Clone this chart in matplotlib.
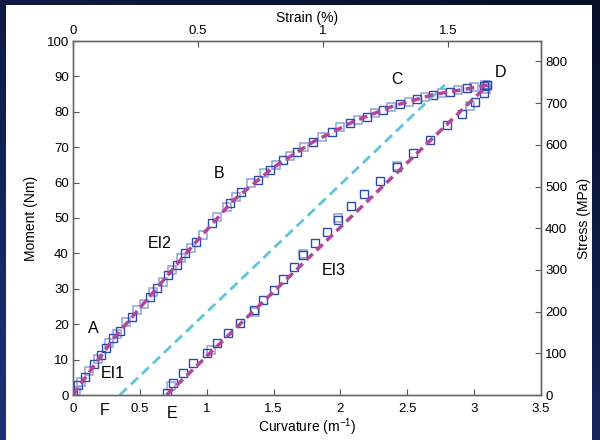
import numpy as np
import matplotlib
matplotlib.use("Agg")
import matplotlib.pyplot as plt
from matplotlib.patches import Rectangle

plt.rcParams['font.family'] = ['Liberation Sans', 'DejaVu Sans']
plt.rcParams['mathtext.default'] = 'regular'

# loading branch O-A-B-C-D (two overlapping sample sets)
load1_c = [0, 0.04, 0.09, 0.16, 0.21, 0.25, 0.30, 0.35, 0.44, 0.576, 0.626, 0.71, 0.775,
           0.838, 0.92, 1.037, 1.174, 1.26, 1.386, 1.473, 1.573, 1.673, 1.797, 1.935,
           2.07, 2.197, 2.32, 2.446, 2.57, 2.695, 2.82, 2.945, 3.07, 3.094]
load1_m = [0, 2.8, 5.2, 8.8, 11.3, 13.2, 16.0, 18.2, 22.1, 27.8, 30.1, 33.9, 36.7,
           40.0, 43.3, 48.5, 54.1, 57.4, 60.7, 63.6, 66.4, 68.7, 71.6, 74.4,
           76.8, 78.6, 80.5, 82.2, 83.5, 84.7, 85.7, 86.6, 87.3, 87.6]
load2_c = [0.02, 0.06, 0.12, 0.19, 0.27, 0.33, 0.40, 0.48, 0.53, 0.60, 0.67, 0.74, 0.81,
           0.88, 0.97, 1.08, 1.15, 1.22, 1.33, 1.43, 1.52, 1.62, 1.73, 1.86, 2.00,
           2.13, 2.26, 2.38, 2.51, 2.63, 2.76, 2.88, 3.00, 3.08]
load2_m = [1.2, 3.8, 6.8, 10.2, 14.6, 17.3, 20.6, 24.0, 25.8, 29.0, 31.9, 35.3, 38.6,
           41.5, 45.2, 50.2, 53.2, 56.0, 59.8, 62.6, 65.0, 67.6, 70.1, 73.0, 75.8,
           77.8, 79.6, 81.4, 82.9, 84.1, 85.3, 86.2, 86.9, 87.5]

# unloading branch D-E
unl1_c = [3.094, 3.07, 3.007, 2.907, 2.795, 2.67, 2.545, 2.42, 2.296, 2.18, 2.08, 1.98,
          1.90, 1.81, 1.72, 1.65, 1.573, 1.50, 1.42, 1.35, 1.25, 1.16, 1.075, 1.0,
          0.9, 0.825, 0.75, 0.70]
unl1_m = [87.6, 85.2, 82.9, 79.4, 76.3, 72.0, 68.3, 64.3, 60.5, 56.8, 53.4, 49.4,
          46.1, 42.9, 39.5, 36.2, 32.7, 29.7, 26.8, 24.0, 20.4, 17.4, 14.6, 11.8,
          9.0, 6.1, 3.3, 0.5]
unl2_c = [3.09, 2.97, 2.42, 1.98, 1.72, 1.36, 1.03, 0.73]
unl2_m = [86.5, 81.5, 64.6, 49.9, 39.9, 23.5, 12.7, 2.5]

# fitted lines
fit_load_c = [0, 0.30, 0.60, 0.90, 1.20, 1.50, 1.80, 2.10, 2.40, 2.70, 2.95, 3.10]
fit_load_m = [0, 15.8, 29.0, 42.4, 55.0, 64.3, 71.6, 77.3, 81.7, 84.9, 86.5, 87.5]
fit_unl_c = [0.70, 3.10]
fit_unl_m = [0, 87.5]
el_c = [0.35, 2.78]
el_m = [0, 87.6]

labels = ['A', 'EI1', 'EI2', 'B', 'C', 'D', 'EI3', 'F', 'E']
lab_c = [0.15, 0.30, 0.65, 1.09, 2.42, 3.20, 1.95, 0.24, 0.74]
lab_m = [18.8, 6.1, 42.8, 62.6, 89.0, 91.0, 35.3, -4.4, -5.2]

fig = plt.figure(figsize=(6, 4.4), dpi=100)

# slide background
bg = fig.add_axes([0, 0, 1, 1], zorder=-10)
yy, xx = np.mgrid[0:1:200j, 0:1:200j]
grad = np.clip(0.65 * yy + 0.35 * (1 - xx), 0, 1)
dark = np.array([5, 15, 38]) / 255
light = np.array([32, 48, 118]) / 255
img = dark[None, None, :] * (1 - grad[..., None]) + light[None, None, :] * grad[..., None]
bg.imshow(img, extent=[0, 1, 0, 1], aspect='auto', origin='upper')
bg.add_patch(Rectangle((6 / 600, 0), 586 / 600, 435 / 440, facecolor='white',
                       edgecolor='none', transform=bg.transAxes))
bg.set_xlim(0, 1)
bg.set_ylim(0, 1)
bg.axis('off')

ax = fig.add_axes([73 / 600, 1 - 395 / 440, 468 / 600, 354 / 440])
ax.set_facecolor('none')

dark_sq = '#2d4bab'
light_sq = '#7d90cf'
ms = 6.2
ax.plot(load2_c, load2_m, 's', ms=ms, mfc='none', mec=light_sq, mew=1.1, alpha=0.85, zorder=2)
ax.plot(unl2_c, unl2_m, 's', ms=ms, mfc='none', mec=light_sq, mew=1.1, alpha=0.85, zorder=2)
ax.plot(load1_c, load1_m, 's', ms=ms, mfc='none', mec=dark_sq, mew=1.0, zorder=3)
ax.plot(unl1_c, unl1_m, 's', ms=ms, mfc='none', mec=dark_sq, mew=1.0, zorder=3)

ax.plot(el_c, el_m, '--', color='#5cc6da', lw=2.0, dashes=(3.5, 2), zorder=4)
ax.plot(fit_load_c, fit_load_m, '--', color='#b4469a', lw=2.5, dashes=(2.5, 1.5), zorder=5)
ax.plot(fit_unl_c, fit_unl_m, '--', color='#b4469a', lw=2.5, dashes=(2.5, 1.5), zorder=5)

for t, c, m in zip(labels, lab_c, lab_m):
    ax.text(c, m, t, fontsize=11.5, ha='center', va='center', clip_on=False)

ax.set_xlim(0, 3.5)
ax.set_ylim(0, 100)
ax.set_xticks(np.arange(0, 3.51, 0.5))
ax.set_xticklabels(['0', '0.5', '1', '1.5', '2', '2.5', '3', '3.5'])
ax.set_yticks(np.arange(0, 101, 10))
ax.set_ylabel('Moment (Nm)', fontsize=10, labelpad=6)

axr = ax.twinx()
axr.set_ylim(0, 849)
axr.set_yticks(np.arange(0, 801, 100))
axr.set_ylabel('Stress (MPa)', fontsize=10, labelpad=7)

axt = ax.twiny()
axt.set_xlim(0, 1.872)
axt.set_xticks([0, 0.5, 1, 1.5])
axt.set_xticklabels(['0', '0.5', '1', '1.5'])
axt.set_xlabel('Strain (%)', fontsize=10, labelpad=2)

for a in (ax, axr, axt):
    a.tick_params(direction='in', length=4, width=0.8, color='#555555',
                  labelsize=9.5, pad=3)
    for s in a.spines.values():
        s.set_color('#666666')
        s.set_linewidth(0.9)
ax.tick_params(axis='x', pad=6)
ax.set_xlabel('Curvature (m$^{-1}$)', fontsize=10, labelpad=1)

fig.savefig('out.png', dpi=100)
